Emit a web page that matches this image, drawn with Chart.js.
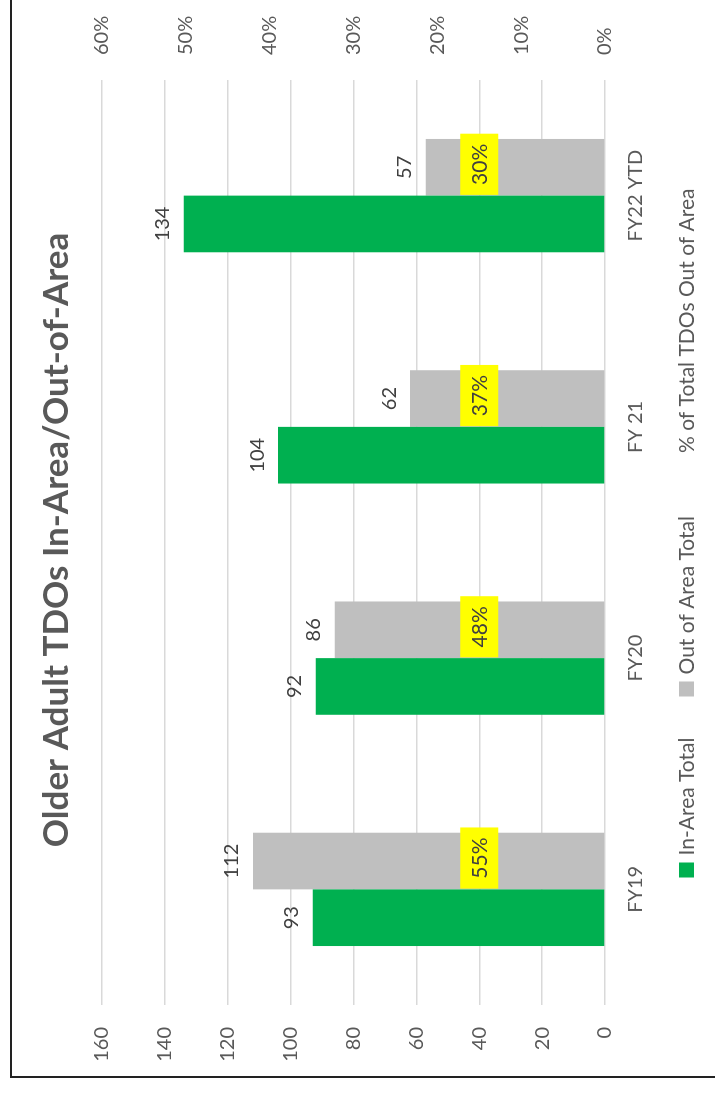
<!DOCTYPE html>
<html>
<head>
<meta charset="utf-8">
<title>Older Adult TDOs In-Area/Out-of-Area</title>
<script src="https://cdn.jsdelivr.net/npm/chart.js@4.4.0/dist/chart.umd.min.js"></script>
<style>
  html, body { margin: 0; padding: 0; background: #fff; overflow: hidden; }
  /* chart is drawn landscape, then turned a quarter to the left like the scan */
  #wrap {
    position: absolute; left: 0; top: 0;
    width: 1098px; height: 715px;
    transform-origin: 0 0;
    transform: translate(0, 1098px) rotate(-90deg);
  }
</style>
</head>
<body>
<div id="wrap"><canvas id="myChart" width="1098" height="715"></canvas></div>
<script>
const fiscalYears = ["FY19", "FY20", "FY 21", "FY22 YTD"];
const inAreaTotal = [93, 92, 104, 134];
const outOfAreaTotal = [112, 86, 62, 57];
const pctOutOfArea = [55, 48, 37, 30];
const countTicks = [0, 20, 40, 60, 80, 100, 120, 140, 160];
const pctTicks = [0, 10, 20, 30, 40, 50, 60];

const FONT = "Lato, 'Liberation Sans', sans-serif";
const GREEN = "#00B050";
const GREY = "#BFBFBF";
const TEXT = "#595959";

// frame line, only top and left edges fall inside the picture
const framePlugin = {
  id: "frame",
  beforeDraw(chart) {
    const ctx = chart.ctx;
    ctx.save();
    ctx.fillStyle = "#fff";
    ctx.fillRect(0, 0, chart.width, chart.height);
    ctx.strokeStyle = "#222";
    ctx.lineWidth = 2;
    ctx.beginPath();
    ctx.moveTo(chart.width, 11);
    ctx.lineTo(21, 11);
    ctx.lineTo(21, chart.height);
    ctx.stroke();
    ctx.restore();
  },
};

const labelPlugin = {
  id: "barLabels",
  afterDatasetsDraw(chart) {
    const ctx = chart.ctx;
    ctx.save();
    ctx.font = "20px " + FONT;
    ctx.fillStyle = "#404040";
    ctx.textAlign = "center";
    ctx.textBaseline = "middle";
    [0, 1].forEach((di) => {
      const meta = chart.getDatasetMeta(di);
      meta.data.forEach((bar, i) => {
        ctx.fillText(chart.data.datasets[di].data[i], bar.x, bar.y - 21);
      });
    });

    // percentage tags sit on the grey bars at a fixed height
    const greyBars = chart.getDatasetMeta(1).data;
    const tagY = chart.scales.y.getPixelForValue(40);
    ctx.font = "21px " + FONT;
    chart.data.datasets[2].data.forEach((v, i) => {
      const txt = v + "%";
      const w = ctx.measureText(txt).width + 20;
      const x = greyBars[i].x + 3;
      ctx.fillStyle = "#FFFF00";
      ctx.fillRect(x - w / 2, tagY - 19, w, 38);
      ctx.fillStyle = "#404040";
      ctx.fillText(txt, x, tagY + 1);
    });
    ctx.restore();
  },
};

// legend drawn by hand; third key keeps an empty swatch slot like the scan
const legendPlugin = {
  id: "bottomLegend",
  afterDraw(chart) {
    const ctx = chart.ctx;
    const y = 686.5;
    const box = 15, boxGap = 7, itemGap = 41;
    ctx.save();
    ctx.font = "21px " + FONT;
    ctx.textBaseline = "middle";
    ctx.textAlign = "left";
    const sets = chart.data.datasets;
    let total = 0;
    sets.forEach((ds, i) => {
      total += box + boxGap + ctx.measureText(ds.label).width;
      if (i < sets.length - 1) total += itemGap;
    });
    let x = 565 - total / 2;
    sets.forEach((ds) => {
      if (ds.type !== "line") {
        ctx.fillStyle = ds.backgroundColor;
        ctx.fillRect(x, y - box / 2, box, box);
      }
      x += box + boxGap;
      ctx.fillStyle = TEXT;
      ctx.fillText(ds.label, x, y + 1);
      x += ctx.measureText(ds.label).width + itemGap;
    });
    ctx.restore();
  },
};

const drawChart = () => {
  const config = {
    type: "bar",
    data: {
      labels: fiscalYears,
      datasets: [
        {
          label: "In-Area Total",
          data: inAreaTotal,
          backgroundColor: GREEN,
          yAxisID: "y",
          order: 1,
        },
        {
          label: "Out of Area Total",
          data: outOfAreaTotal,
          backgroundColor: GREY,
          yAxisID: "y",
          order: 1,
        },
        {
          type: "line",
          label: "% of Total TDOs Out of Area",
          data: pctOutOfArea,
          showLine: false,
          pointRadius: 0,
          borderColor: "transparent",
          backgroundColor: "transparent",
          yAxisID: "y1",
          order: 0,
        },
      ],
    },
    options: {
      responsive: false,
      animation: false,
      datasets: {
        bar: { categoryPercentage: 0.49, barPercentage: 1.0 },
      },
      layout: { padding: { left: 20, right: 2, top: 0, bottom: 0 } },
      plugins: {
        legend: { display: false },
        tooltip: { enabled: false },
        title: {
          display: true,
          text: "Older Adult TDOs In-Area/Out-of-Area",
          color: TEXT,
          font: { family: FONT, size: 35, weight: "bold" },
          padding: { top: 36, bottom: 24 },
        },
      },
      scales: {
        x: {
          grid: { display: false },
          border: { display: false },
          ticks: { color: TEXT, font: { family: FONT, size: 20 }, padding: 11 },
          afterFit: (s) => { s.height = 110; },
        },
        y: {
          position: "left",
          min: 0,
          max: 160,
          grid: { color: "#D9D9D9", lineWidth: 1.5, drawTicks: false },
          border: { display: false },
          afterBuildTicks: (s) => { s.ticks = countTicks.map((v) => ({ value: v })); },
          ticks: { color: TEXT, font: { family: FONT, size: 20 }, padding: 22 },
          afterFit: (s) => { s.width = 73; },
        },
        y1: {
          position: "right",
          min: 0,
          max: 60,
          grid: { display: false, drawTicks: false },
          border: { display: false },
          afterBuildTicks: (s) => { s.ticks = pctTicks.map((v) => ({ value: v })); },
          ticks: {
            color: TEXT,
            font: { family: FONT, size: 20 },
            padding: 25,
            callback: (v) => v + "%",
          },
          afterFit: (s) => { s.width = 78; },
        },
      },
    },
    plugins: [framePlugin, labelPlugin, legendPlugin],
  };
  new Chart(document.getElementById("myChart"), config);
};

Promise.all([
  document.fonts.load("20px Lato"),
  document.fonts.load("bold 35px Lato"),
]).then(drawChart, drawChart);
</script>
</body>
</html>
